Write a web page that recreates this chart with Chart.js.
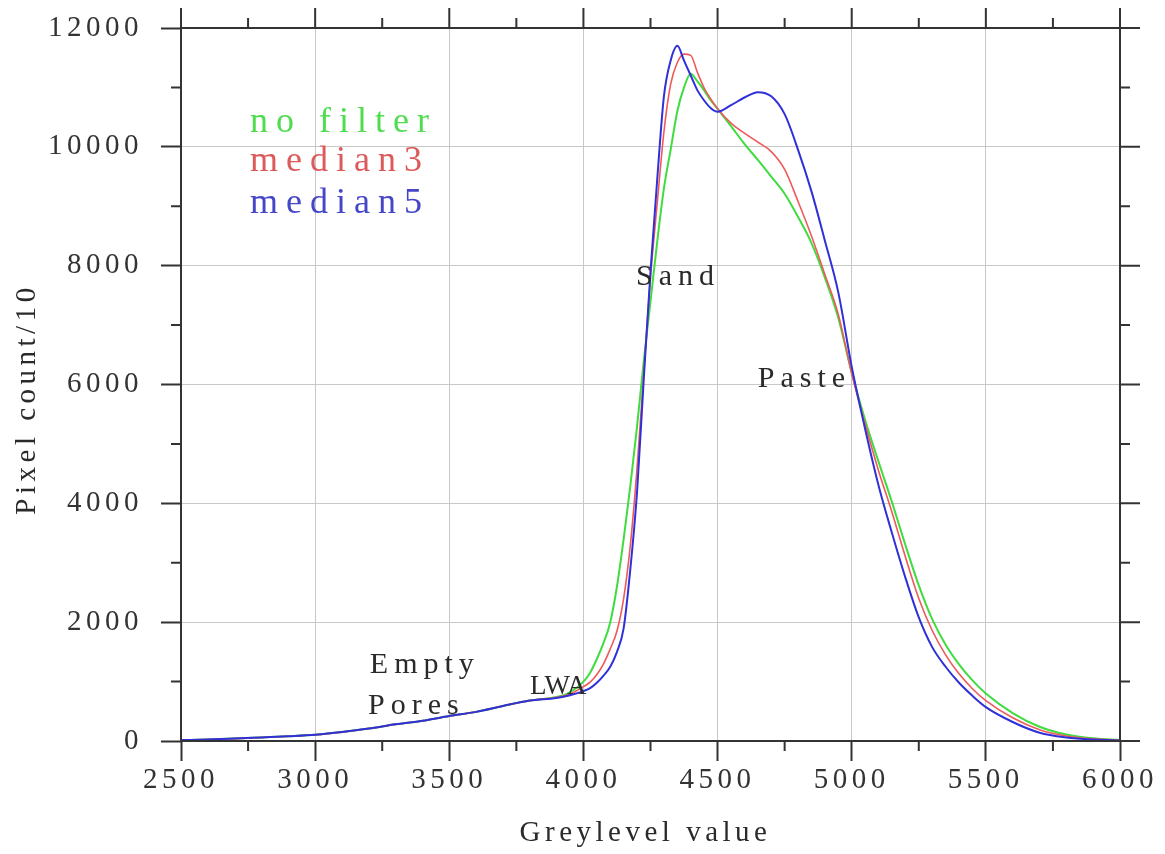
<!DOCTYPE html>
<html><head><meta charset="utf-8">
<script src="https://cdn.jsdelivr.net/npm/chart.js@4.4.1/dist/chart.umd.min.js"></script>
<style>html,body{margin:0;padding:0;background:#fff;}canvas{display:block;}</style>
</head><body>
<canvas id="c" width="1165" height="854"></canvas>
<script>
// ---- data ----
const greylevel = [2500,2600,2700,2800,2900,3000,3100,3200,3300,3400,3500,3600,3700,3800,3900,3950,
  4000,4025,4050,4075,4100,4125,4150,4175,4200,4225,4250,4275,4300,4325,4350,4375,4400,4425,4450,4475,4500,
  4550,4600,4650,4700,4750,4800,4850,4900,4950,5000,5050,5100,5150,5200,5250,5300,5350,5400,5450,5500,
  5600,5700,5800,5900,6000];
const noFilter = [15,25,40,60,80,105,150,210,280,340,420,490,590,680,740,820,
  1000,1150,1380,1650,2000,2600,3400,4300,5300,6400,7400,8400,9300,9950,10600,11000,11230,11100,10950,10780,10640,
  10350,10050,9780,9500,9210,8820,8380,7800,7120,6200,5400,4700,4020,3300,2620,2050,1620,1290,1020,800,
  470,240,110,45,15];
const median3 = [15,25,40,60,80,105,150,210,280,340,420,490,590,680,735,790,
  915,990,1120,1300,1550,1850,2400,3300,4600,6200,7800,9050,10250,11050,11420,11560,11540,11250,10990,10800,10640,
  10400,10230,10080,9920,9620,9080,8500,7850,7180,6180,5330,4550,3850,3100,2400,1860,1450,1130,880,680,
  390,190,85,35,12];
const median5 = [15,25,40,60,80,105,150,210,280,340,420,490,590,680,725,770,
  840,890,980,1100,1250,1500,1900,2900,4200,6100,7900,9450,10850,11450,11700,11450,11200,10950,10780,10650,10590,
  10700,10830,10920,10850,10550,9950,9250,8420,7550,6300,5250,4300,3500,2750,2080,1580,1250,980,760,570,
  320,140,60,25,10];
const seriesNames = ['no filter','median3','median5'];
const xTickValues = [2500,3000,3500,4000,4500,5000,5500,6000];
const yTickValues = [0,2000,4000,6000,8000,10000,12000];
const xMinorTicks = [2750,3250,3750,4250,4750,5250,5750];
const yMinorTicks = [1000,3000,5000,7000,9000,11000];
const annotations = [
  {text:'Sand', x:4196, y:7675},
  {text:'Paste', x:4650, y:5958},
  {text:'Empty', x:3204, y:1144},
  {text:'Pores', x:3197, y:454},
  {text:'LWA', x:3801, y:791}
];
const xTitle = 'Greylevel value';
const yTitle = 'Pixel count/10';

// ---- styles ----
const SERIF = '"Liberation Serif", "Times New Roman", serif';
const lineColors = ['#3fdc3f','#ee5a5a','#3030d8'];
const legendColors = ['#4fdc4f','#dc5a5a','#4646c8'];
const lineWidths = [2,1.6,2];
const SPACING = '4.5px';

const toPts = arr => greylevel.map((g,i)=>({x:g, y:arr[i]}));
const seriesData = [noFilter, median3, median5];

const decorPlugin = {
  id:'decor',
  beforeLayout(chart){ chart.ctx.letterSpacing = SPACING; },
  beforeDraw(chart){
    const ctx = chart.ctx;
    ctx.save(); ctx.fillStyle='#fff'; ctx.fillRect(0,0,chart.width,chart.height); ctx.restore();
    ctx.letterSpacing = SPACING;
  },
  afterDraw(chart){
    const ctx = chart.ctx, a = chart.chartArea, xs = chart.scales.x, ys = chart.scales.y;
    const MAJ = 20, MIN = 10;
    ctx.save();
    ctx.strokeStyle = '#333'; ctx.lineWidth = 2;
    ctx.strokeRect(a.left, a.top, a.right - a.left, a.bottom - a.top);
    ctx.beginPath();
    xTickValues.forEach(v=>{ const p = xs.getPixelForValue(v); ctx.moveTo(p, a.top); ctx.lineTo(p, a.top - MAJ); });
    xMinorTicks.forEach(v=>{ const p = xs.getPixelForValue(v);
      ctx.moveTo(p, a.top); ctx.lineTo(p, a.top - MIN);
      ctx.moveTo(p, a.bottom); ctx.lineTo(p, a.bottom + MIN); });
    yTickValues.forEach(v=>{ const p = ys.getPixelForValue(v); ctx.moveTo(a.right, p); ctx.lineTo(a.right + MAJ, p); });
    yMinorTicks.forEach(v=>{ const p = ys.getPixelForValue(v);
      ctx.moveTo(a.left, p); ctx.lineTo(a.left - MIN, p);
      ctx.moveTo(a.right, p); ctx.lineTo(a.right + MIN, p); });
    ctx.stroke();

    // axis titles
    ctx.fillStyle = '#2a2a2a';
    ctx.font = '29px ' + SERIF;
    ctx.letterSpacing = SPACING;
    ctx.textAlign = 'center'; ctx.textBaseline = 'alphabetic';
    ctx.fillText(xTitle, (a.left + a.right)/2 - 5, 841);
    ctx.save();
    ctx.translate(35, 399); ctx.rotate(-Math.PI/2);
    ctx.fillText(yTitle, 0, 0);
    ctx.restore();

    // legend
    ctx.font = '36px ' + SERIF;
    ctx.letterSpacing = '8px';
    ctx.textAlign = 'left';
    const legendBase = [132, 171, 213];
    seriesNames.forEach((n,i)=>{ ctx.fillStyle = legendColors[i]; ctx.fillText(n, a.left + 69, legendBase[i]); });

    // annotations
    ctx.fillStyle = '#2a2a2a';
    annotations.forEach(an=>{
      if (an.text === 'LWA') { ctx.font = '27px ' + SERIF; ctx.letterSpacing = '0px'; }
      else { ctx.font = '30px ' + SERIF; ctx.letterSpacing = '6px'; }
      ctx.fillText(an.text, xs.getPixelForValue(an.x), ys.getPixelForValue(an.y));
    });
    ctx.restore();
  }
};

const xTickFont = {family: SERIF, size: 29};
const yTickFont = {family: SERIF, size: 29, lineHeight: 0.6};
new Chart(document.getElementById('c'), {
  type:'line',
  data:{
    datasets: seriesNames.map((n,i)=>({
      label:n, data: toPts(seriesData[i]), borderColor: lineColors[i], backgroundColor: lineColors[i],
      borderWidth: lineWidths[i], pointRadius:0, fill:false, cubicInterpolationMode:'monotone',
      order: 2 - i
    }))
  },
  options:{
    responsive:false, animation:false, devicePixelRatio:1,
    layout:{padding:{top:28, right:45, left:0, bottom:0}},
    plugins:{legend:{display:false}, tooltip:{enabled:false}},
    scales:{
      x:{type:'linear', min:2500, max:6000,
        afterFit(s){ s.height = 113; },
        ticks:{stepSize:500, font:xTickFont, color:'#333', padding:2, maxRotation:0, autoSkip:false, callback:v=>String(v)},
        grid:{color:'#c8c8c8', lineWidth:1, tickColor:'#333', tickLength:20, tickWidth:2},
        border:{display:false}},
      y:{type:'linear', min:0, max:12000,
        afterFit(s){ s.width = 181; },
        ticks:{stepSize:2000, font:yTickFont, color:'#333', padding:18, callback:v=>String(v)},
        grid:{color:'#c8c8c8', lineWidth:1, tickColor:'#333', tickLength:20, tickWidth:2},
        border:{display:false}}
    }
  },
  plugins:[decorPlugin]
});
</script>
</body></html>
